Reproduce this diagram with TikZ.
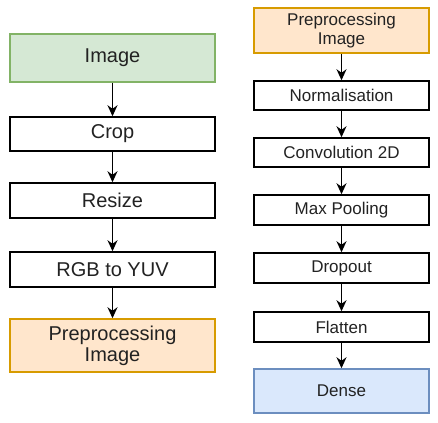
\documentclass[tikz,border=0pt]{standalone}
\usepackage{fontspec}
\setmainfont{Liberation Sans}
\usetikzlibrary{arrows.meta}

\definecolor{greenfill}{HTML}{D5E8D4}
\definecolor{greenline}{HTML}{82B366}
\definecolor{orangefill}{HTML}{FFE6CC}
\definecolor{orangeline}{HTML}{D79B00}
\definecolor{bluefill}{HTML}{DAE8FC}
\definecolor{blueline}{HTML}{6C8EBF}
\definecolor{textgray}{HTML}{222222}

\tikzset{
    stage/.style={draw=black, fill=white, line width=1.5pt, rectangle, align=center, text=textgray, inner sep=0pt},
    leftstage/.style={stage, minimum width=205pt, font=\fontsize{20}{21}\selectfont},
    rightstage/.style={stage, minimum width=175pt, font=\fontsize{17}{18.5}\selectfont},
    inputbox/.style={draw=greenline, fill=greenfill},
    prepbox/.style={draw=orangeline, fill=orangefill},
    densebox/.style={draw=blueline, fill=bluefill},
    flow/.style={line width=1.5pt, -{Stealth[length=11pt, width=10pt, inset=3.5pt]}}
}

\begin{document}
\begin{tikzpicture}[x=1pt, y=-1pt]
    \useasboundingbox (0,0) rectangle (438,422);

    % preprocessing column
    \node[leftstage, inputbox, minimum height=48pt] (image) at (112.5,58) {Image};
    \node[leftstage, minimum height=34pt] (crop) at (112.5,134) {Crop};
    \node[leftstage, minimum height=35pt] (resize) at (112.5,200.5) {Resize};
    \node[leftstage, minimum height=35pt] (yuv) at (112.5,269.5) {RGB to YUV};
    \node[leftstage, prepbox, minimum height=53pt] (prepout) at (112.5,345.5) {Preprocessing\\Image};

    % network column
    \node[rightstage, prepbox, minimum height=45pt] (prepin) at (341.5,30.5) {Preprocessing\\Image};
    \node[rightstage, minimum height=29pt] (norm) at (341.5,95.5) {Normalisation};
    \node[rightstage, minimum height=29pt] (conv) at (341.5,152.5) {Convolution 2D};
    \node[rightstage, minimum height=30pt] (pool) at (341.5,210) {Max Pooling};
    \node[rightstage, minimum height=30pt] (drop) at (341.5,268) {Dropout};
    \node[rightstage, minimum height=30pt] (flat) at (341.5,327) {Flatten};
    \node[rightstage, densebox, minimum height=44pt] (dense) at (341.5,391) {Dense};

    \foreach \from/\to in {image/crop, crop/resize, resize/yuv, yuv/prepout, prepin/norm, norm/conv, conv/pool, pool/drop, drop/flat, flat/dense}
    {
        \draw[flow] (\from) -- (\to);
    }
\end{tikzpicture}
\end{document}
